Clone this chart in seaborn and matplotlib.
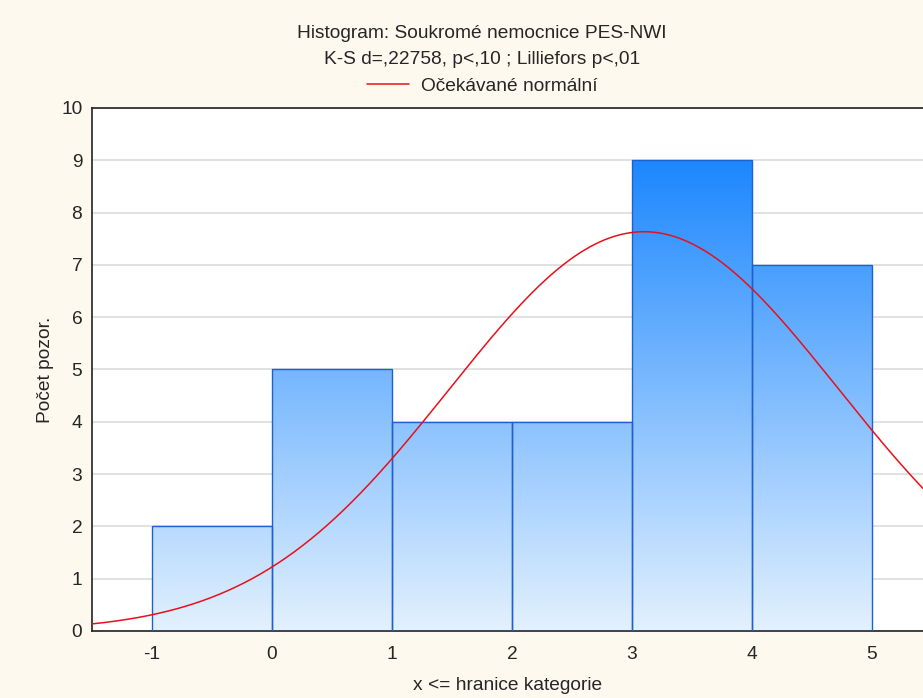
import numpy as np
import pandas as pd
import matplotlib
matplotlib.use("Agg")
import matplotlib.pyplot as plt
import seaborn as sns

# ---- data ----
bin_edges = [-1, 0, 1, 2, 3, 4, 5]
bin_centers = [-0.5, 0.5, 1.5, 2.5, 3.5, 4.5]
counts = [2, 5, 4, 4, 9, 7]
x_ticks = [-1, 0, 1, 2, 3, 4, 5]
y_ticks = [0, 1, 2, 3, 4, 5, 6, 7, 8, 9, 10]
fit_mean = 3.1
fit_sd = 1.62
title_lines = ["Histogram: Soukromé nemocnice PES-NWI",
               "K-S d=,22758, p<,10 ; Lilliefors p<,01"]
legend_label = "Očekávané normální"
xlabel = "x <= hranice kategorie"
ylabel = "Počet pozor."

sns.set_theme(style="white")
plt.rcParams['font.family'] = ['Liberation Sans', 'DejaVu Sans']

FS = 13.8
BG = "#FEF9EE"
fig = plt.figure(figsize=(9.23, 6.98), dpi=100, facecolor=BG)
ax = fig.add_axes([0.0997, 0.0960, 0.9003, 0.7493])
ax.set_facecolor("white")

df = pd.DataFrame({"x": bin_centers, "n": counts})
sns.histplot(data=df, x="x", weights="n", bins=bin_edges, ax=ax,
             stat="count", element="bars", fill=True,
             facecolor="none", edgecolor="#1F5FD0", linewidth=1.0, zorder=3)

# vertical gradient fill clipped to each bar
c0 = np.array([0.89, 0.945, 0.995])
c1 = np.array([0.11, 0.53, 1.0])
t = np.linspace(0, 1, 256)[:, None]
grad = (c0[None, :] * (1 - t) + c1[None, :] * t)[:, None, :]
for p in list(ax.patches):
    im = ax.imshow(grad, extent=(-1.5, 5.425, 0, 9), origin="lower",
                   aspect="auto", zorder=2, interpolation="bilinear")
    im.set_clip_path(p)
ax.set_xlim(-1.5, 5.425)
ax.set_ylim(0, 10)

# expected normal curve
N = sum(counts)
bw = bin_edges[1] - bin_edges[0]
xs = np.linspace(-1.5, 5.425, 400)
ys = N * bw * np.exp(-0.5 * ((xs - fit_mean) / fit_sd) ** 2) / (fit_sd * np.sqrt(2 * np.pi))
sns.lineplot(x=xs, y=ys, ax=ax, color="#E8101A", linewidth=1.1, zorder=5,
             label=legend_label, legend=False)

ax.set_xticks(x_ticks)
ax.set_yticks(y_ticks)
ax.set_xticklabels([str(v) for v in x_ticks], fontsize=FS)
ax.set_yticklabels([str(v) for v in y_ticks], fontsize=FS)
ax.grid(axis="y", color="#DCDCDC", linewidth=1.2, zorder=0)
ax.set_axisbelow(True)
ax.tick_params(axis="x", direction="out", length=4, width=1, color="black", pad=7)
ax.tick_params(axis="y", direction="out", length=3, width=1, color="black", pad=4)
for s in ["left", "bottom", "top"]:
    ax.spines[s].set_color("#222222")
    ax.spines[s].set_linewidth(1.2)
ax.spines["right"].set_visible(False)

ax.set_xlabel(xlabel, fontsize=FS, labelpad=10)
ax.set_ylabel(ylabel, fontsize=FS, labelpad=5)

cx = 482 / 923
fig.text(cx, 1 - 33 / 698, title_lines[0], ha="center", va="center", fontsize=FS)
fig.text(cx, 1 - 59 / 698, title_lines[1], ha="center", va="center", fontsize=FS)
h, l = ax.get_legend_handles_labels()
fig.legend(h, l, loc="center", bbox_to_anchor=(cx, 1 - 86 / 698), frameon=False,
           fontsize=FS, handlelength=2.2, handletextpad=0.6)

fig.savefig("out.png", dpi=100, facecolor=BG)
